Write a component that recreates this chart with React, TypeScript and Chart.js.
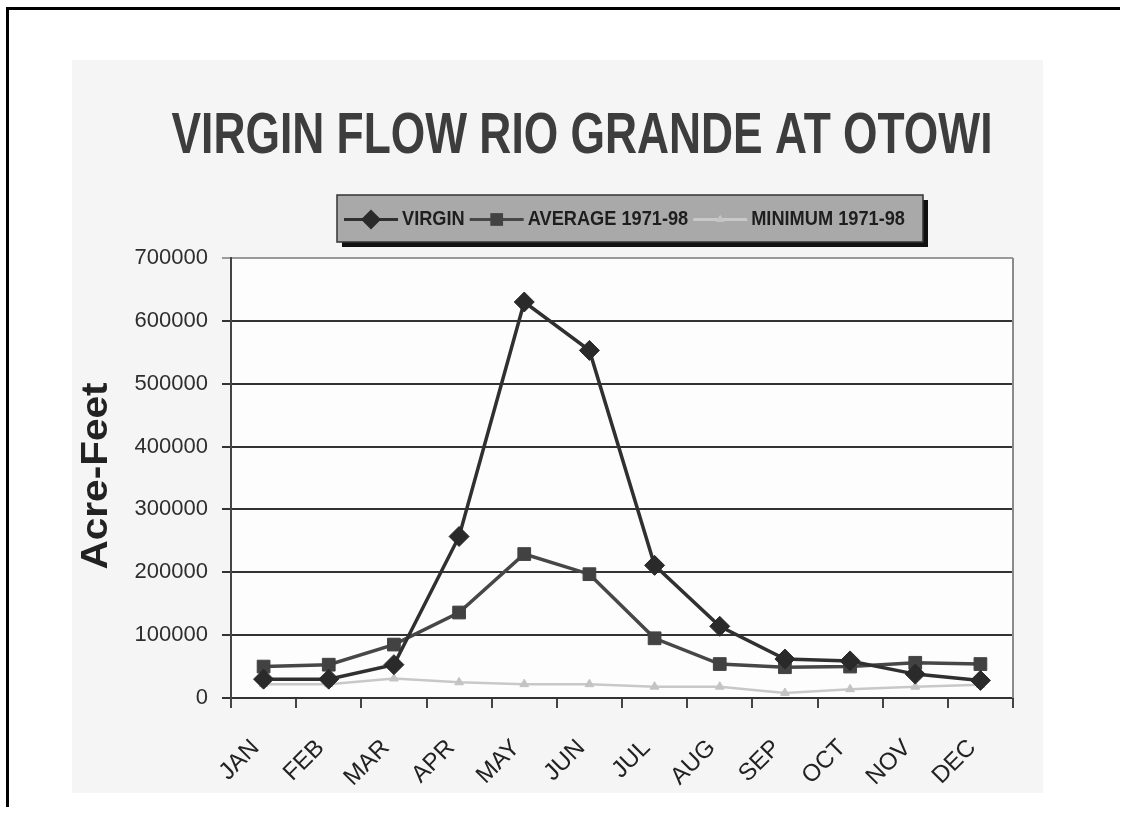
import React, { useEffect, useRef } from "react";
import { Chart, registerables } from "chart.js";

Chart.register(...registerables);

const TITLE = "VIRGIN FLOW RIO GRANDE AT OTOWI";
const Y_TITLE = "Acre-Feet";
const MONTHS = ["JAN", "FEB", "MAR", "APR", "MAY", "JUN", "JUL", "AUG", "SEP", "OCT", "NOV", "DEC"];
const SERIES_LABELS = ["VIRGIN", "AVERAGE 1971-98", "MINIMUM 1971-98"];
const VIRGIN = [30000, 30000, 53000, 257000, 630000, 553000, 211000, 114000, 62000, 59000, 38000, 28000];
const AVERAGE = [50000, 53000, 85000, 136000, 229000, 197000, 95000, 54000, 49000, 50000, 56000, 54000];
const MINIMUM = [22000, 22000, 31000, 25000, 22000, 22000, 18000, 18000, 8000, 14000, 18000, 21000];
const Y_MIN = 0;
const Y_MAX = 700000;
const Y_STEP = 100000;

const FONT = '"Liberation Sans", Arial, Helvetica, sans-serif';

const W = 971;
const H = 733;

function drawMarker(ctx: CanvasRenderingContext2D, style: string, x: number, y: number, r: number) {
  ctx.beginPath();
  if (style === "rectRot") {
    ctx.moveTo(x, y - r);
    ctx.lineTo(x + r, y);
    ctx.lineTo(x, y + r);
    ctx.lineTo(x - r, y);
    ctx.closePath();
  } else if (style === "rect") {
    const s = r * Math.SQRT1_2;
    ctx.rect(x - s, y - s, 2 * s, 2 * s);
  } else {
    ctx.moveTo(x, y - r);
    ctx.lineTo(x + r * 0.866, y + r * 0.5);
    ctx.lineTo(x - r * 0.866, y + r * 0.5);
    ctx.closePath();
  }
  ctx.fill();
}

const plotBgPlugin = {
  id: "plotBg",
  beforeDraw(chart: any) {
    const { ctx, chartArea } = chart;
    ctx.save();
    ctx.fillStyle = "#fdfdfd";
    ctx.fillRect(chartArea.left, chartArea.top, chartArea.right - chartArea.left, chartArea.bottom - chartArea.top);
    ctx.restore();
  },
  afterDraw(chart: any) {
    const { ctx, chartArea } = chart;
    ctx.save();
    ctx.strokeStyle = "#8a8a8a";
    ctx.lineWidth = 2;
    ctx.beginPath();
    ctx.moveTo(chartArea.right, chartArea.top);
    ctx.lineTo(chartArea.right, chartArea.bottom);
    ctx.stroke();
    ctx.restore();
  },
};

const titlePlugin = {
  id: "customTitle",
  afterDraw(chart: any) {
    const ctx = chart.ctx as CanvasRenderingContext2D;
    ctx.save();
    ctx.font = `bold 58px ${FONT}`;
    const w = ctx.measureText(TITLE).width;
    ctx.translate(510, 93);
    ctx.scale(821 / w, 1);
    ctx.fillStyle = "#3d3d3d";
    ctx.textAlign = "center";
    ctx.textBaseline = "alphabetic";
    ctx.fillText(TITLE, 0, 0);
    ctx.restore();

    // y-axis title
    ctx.save();
    ctx.font = `bold 36px ${FONT}`;
    const yw = ctx.measureText(Y_TITLE).width;
    ctx.translate(35, (chart.chartArea.top + chart.chartArea.bottom) / 2 - 2);
    ctx.rotate(-Math.PI / 2);
    ctx.scale(187 / yw, 1);
    ctx.fillStyle = "#222";
    ctx.textAlign = "center";
    ctx.textBaseline = "alphabetic";
    ctx.fillText(Y_TITLE, 0, 0);
    ctx.restore();
  },
};

const legendPlugin = {
  id: "customLegend",
  afterDraw(chart: any) {
    const ctx = chart.ctx as CanvasRenderingContext2D;
    const bx = 265, by = 135, bw = 586, bh = 47;
    ctx.save();
    ctx.fillStyle = "#111";
    ctx.fillRect(bx + 5, by + 5, bw, bh);
    ctx.fillStyle = "#a9a9a9";
    ctx.fillRect(bx, by, bw, bh);
    ctx.strokeStyle = "#333";
    ctx.lineWidth = 1.5;
    ctx.strokeRect(bx, by, bw, bh);

    ctx.font = `bold 20px ${FONT}`;
    ctx.textBaseline = "middle";
    ctx.textAlign = "left";
    const sx = 0.91;
    const cy = by + bh / 2 + 1;
    let x = bx + 7;
    chart.data.datasets.forEach((ds: any) => {
      const lineLen = 54;
      ctx.strokeStyle = ds.borderColor;
      ctx.lineWidth = 3;
      ctx.beginPath();
      ctx.moveTo(x, cy);
      ctx.lineTo(x + lineLen, cy);
      ctx.stroke();
      ctx.fillStyle = ds.pointBackgroundColor;
      drawMarker(ctx, ds.pointStyle, x + lineLen / 2, cy, ds.pointRadius);
      x += lineLen + 4;
      const tw = ctx.measureText(ds.label).width * sx;
      ctx.save();
      ctx.translate(x, cy);
      ctx.scale(sx, 1);
      ctx.fillStyle = "#1e1e1e";
      ctx.fillText(ds.label, 0, 0);
      ctx.restore();
      x += tw + 5;
    });
    ctx.restore();
  },
};

export default function App() {
  const ref = useRef<HTMLCanvasElement | null>(null);

  useEffect(() => {
    if (!ref.current) return;
    const chart = new Chart(ref.current, {
      type: "line",
      data: {
        labels: MONTHS,
        datasets: [
          {
            label: SERIES_LABELS[0],
            data: VIRGIN,
            borderColor: "#303030",
            borderWidth: 3.5,
            pointStyle: "rectRot",
            pointRadius: 10,
            pointBackgroundColor: "#2a2a2a",
            pointBorderColor: "#2a2a2a",
            pointBorderWidth: 1,
            tension: 0,
          },
          {
            label: SERIES_LABELS[1],
            data: AVERAGE,
            borderColor: "#474747",
            borderWidth: 3.5,
            pointStyle: "rect",
            pointRadius: 9,
            pointBackgroundColor: "#424242",
            pointBorderColor: "#424242",
            pointBorderWidth: 1,
            tension: 0,
          },
          {
            label: SERIES_LABELS[2],
            data: MINIMUM,
            borderColor: "#c8c8c8",
            borderWidth: 2.5,
            pointStyle: "triangle",
            pointRadius: 5,
            pointBackgroundColor: "#c4c4c4",
            pointBorderColor: "#c4c4c4",
            pointBorderWidth: 1,
            tension: 0,
          },
        ],
      },
      options: {
        responsive: false,
        animation: false,
        events: [],
        layout: { padding: { left: 0, top: 198, right: 30, bottom: 0 } },
        plugins: {
          legend: { display: false },
          title: { display: false },
          tooltip: { enabled: false },
        },
        scales: {
          x: {
            type: "category",
            offset: true,
            grid: {
              offset: true,
              drawOnChartArea: false,
              drawTicks: true,
              tickLength: 10,
              color: "#444",
              lineWidth: 2,
            },
            border: { color: "#333", width: 2 },
            ticks: {
              color: "#222",
              font: { family: FONT, size: 24 },
              minRotation: 45,
              maxRotation: 45,
              padding: 26,
              labelOffset: -8,
              autoSkip: false,
            },
            afterFit(scale: any) {
              scale.height = 95;
            },
          },
          y: {
            min: Y_MIN,
            max: Y_MAX,
            ticks: {
              stepSize: Y_STEP,
              color: "#2e2e2e",
              font: { family: FONT, size: 22 },
              padding: 14,
              callback: (v: any) => String(v),
            },
            grid: {
              color: (c: any) => (c.tick && c.tick.value === Y_MAX ? "#9a9a9a" : "#333"),
              lineWidth: 2,
              tickLength: 9,
            },
            border: { color: "#444", width: 2 },
            afterFit(scale: any) {
              scale.width = 159;
            },
          },
        },
      },
      plugins: [plotBgPlugin, titlePlugin, legendPlugin],
    });
    return () => chart.destroy();
  }, []);

  return (
    <div>
      <div
        style={{
          position: "absolute",
          left: 6,
          top: 7,
          width: 1114,
          height: 800,
          borderTop: "3px solid #000",
          borderLeft: "3px solid #000",
          boxSizing: "border-box",
        }}
      />
      <div
        style={{
          position: "absolute",
          left: 72,
          top: 60,
          width: W,
          height: H,
          background: "#f5f5f5",
        }}
      >
        <canvas ref={ref} width={W} height={H} style={{ display: "block", width: W, height: H }} />
      </div>
    </div>
  );
}
